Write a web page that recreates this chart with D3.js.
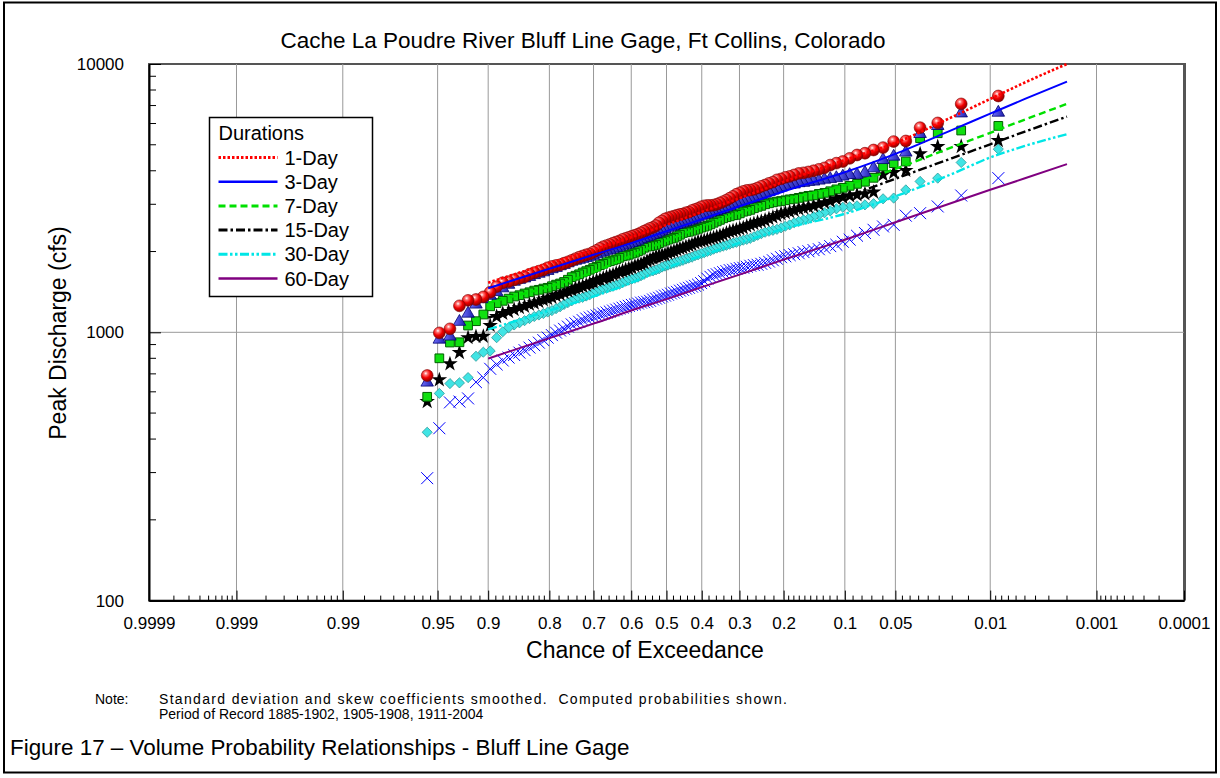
<!DOCTYPE html>
<html>
<head>
<meta charset="utf-8">
<script src="https://cdn.jsdelivr.net/npm/d3@7"></script>
<style>
  body { margin: 0; background: #fff; }
  svg { display: block; font-family: "Liberation Sans", Arial, sans-serif; }
</style>
</head>
<body>
<svg id="chart" width="1220" height="778"></svg>
<script>
// record 1885-1902, 1905-1908, 1911-2004 -> 116 years, Weibull plotting position rank/(n+1)
const recordYears = 116;

const probTicks = [0.9999, 0.999, 0.99, 0.95, 0.9, 0.8, 0.7, 0.6, 0.5, 0.4, 0.3, 0.2, 0.1, 0.05, 0.01, 0.001, 0.0001];
const probLabels = ['0.9999', '0.999', '0.99', '0.95', '0.9', '0.8', '0.7', '0.6', '0.5', '0.4', '0.3', '0.2', '0.1', '0.05', '0.01', '0.001', '0.0001'];
const probMinor = [0.9998, 0.9997, 0.9996, 0.9995, 0.9994, 0.9993, 0.9992, 0.9991,
  0.998, 0.997, 0.996, 0.995, 0.994, 0.993, 0.992, 0.991,
  0.985, 0.98, 0.975, 0.97, 0.965, 0.96, 0.955,
  0.94, 0.93, 0.92, 0.91,
  0.89, 0.88, 0.87, 0.86, 0.85, 0.84, 0.83, 0.82, 0.81,
  0.78, 0.76, 0.74, 0.72, 0.68, 0.66, 0.64, 0.62, 0.58, 0.56, 0.54, 0.52,
  0.48, 0.46, 0.44, 0.42, 0.38, 0.36, 0.34, 0.32, 0.28, 0.26, 0.24, 0.22,
  0.19, 0.18, 0.17, 0.16, 0.15, 0.14, 0.13, 0.12, 0.11,
  0.09, 0.08, 0.07, 0.06,
  0.045, 0.04, 0.035, 0.03, 0.025, 0.02, 0.015,
  0.009, 0.008, 0.007, 0.006, 0.005, 0.004, 0.003, 0.002,
  0.0009, 0.0008, 0.0007, 0.0006, 0.0005, 0.0004, 0.0003, 0.0002];
const flowTicks = [100, 1000, 10000];
const flowMinor = [200, 300, 400, 500, 600, 700, 800, 900, 2000, 3000, 4000, 5000, 6000, 7000, 8000, 9000];

const durations = ['1-Day', '3-Day', '7-Day', '15-Day', '30-Day', '60-Day'];

// ranked annual peak volumes (cfs), largest first
const oneDay = [7600, 7100, 6030, 5790, 5165, 5140, 4880, 4780, 4650, 4580,
  4450, 4330, 4270, 4200, 4100, 4050, 4000, 3960, 3930, 3910,
  3860, 3810, 3780, 3730, 3700, 3630, 3590, 3540, 3500, 3450,
  3410, 3390, 3380, 3350, 3310, 3270, 3210, 3160, 3110, 3070,
  3035, 3000, 2980, 2970, 2970, 2960, 2935, 2895, 2870, 2845,
  2805, 2790, 2760, 2750, 2730, 2710, 2690, 2670, 2645, 2600,
  2560, 2500, 2460, 2440, 2410, 2380, 2350, 2320, 2300, 2280,
  2260, 2240, 2220, 2190, 2170, 2150, 2125, 2105, 2085, 2055,
  2020, 1990, 1960, 1945, 1925, 1905, 1880, 1855, 1830, 1810,
  1785, 1775, 1760, 1740, 1710, 1690, 1670, 1645, 1610, 1590,
  1570, 1545, 1530, 1480, 1410, 1355, 1325, 1315, 1255, 1030,
  995, 690];
const threeDay = [6590, 6550, 5880, 5490, 4680, 4520, 4390, 4090, 3930, 3865,
  3860, 3810, 3760, 3730, 3710, 3680, 3650, 3640, 3610, 3600,
  3560, 3545, 3515, 3470, 3425, 3380, 3340, 3295, 3255, 3215,
  3170, 3145, 3120, 3090, 3065, 3040, 3000, 2960, 2925, 2885,
  2860, 2835, 2815, 2790, 2765, 2740, 2720, 2685, 2650, 2625,
  2605, 2580, 2560, 2540, 2515, 2495, 2475, 2455, 2420, 2390,
  2360, 2330, 2310, 2290, 2270, 2250, 2225, 2195, 2175, 2155,
  2140, 2120, 2105, 2085, 2065, 2050, 2030, 2015, 1995, 1980,
  1955, 1930, 1915, 1895, 1880, 1865, 1850, 1835, 1810, 1785,
  1765, 1740, 1720, 1695, 1675, 1655, 1635, 1610, 1590, 1570,
  1545, 1505, 1460, 1415, 1370, 1330, 1270, 1175, 1095, 965,
  940, 650];
const sevenDay = [5880, 5650, 5520, 5290, 4330, 4270, 4150, 3765, 3640, 3575,
  3515, 3455, 3410, 3355, 3310, 3280, 3240, 3225, 3200, 3170,
  3145, 3130, 3105, 3085, 3070, 3050, 3025, 3000, 2960, 2935,
  2900, 2860, 2835, 2815, 2775, 2740, 2730, 2705, 2685, 2660,
  2625, 2590, 2560, 2525, 2495, 2475, 2455, 2430, 2410, 2390,
  2370, 2360, 2345, 2310, 2280, 2250, 2235, 2215, 2195, 2175,
  2150, 2120, 2105, 2095, 2085, 2065, 2030, 2005, 1980, 1965,
  1945, 1930, 1920, 1895, 1870, 1855, 1840, 1825, 1800, 1780,
  1755, 1735, 1710, 1690, 1670, 1645, 1625, 1605, 1570, 1540,
  1520, 1505, 1485, 1465, 1455, 1440, 1430, 1410, 1395, 1375,
  1360, 1335, 1310, 1285, 1250, 1165, 1100, 1060, 918, 916,
  800, 575];
const fifteenDay = [5185, 4925, 4920, 4625, 4010, 3940, 3865, 3330, 3280, 3255,
  3225, 3185, 3145, 3080, 3040, 3000, 2960, 2935, 2910, 2885,
  2850, 2815, 2790, 2765, 2720, 2685, 2650, 2615, 2590, 2570,
  2540, 2515, 2485, 2450, 2430, 2410, 2390, 2370, 2340, 2310,
  2290, 2270, 2250, 2235, 2215, 2195, 2185, 2175, 2150, 2120,
  2105, 2085, 2065, 2050, 2030, 2005, 1990, 1970, 1945, 1940,
  1930, 1915, 1890, 1865, 1840, 1815, 1795, 1780, 1765, 1740,
  1725, 1710, 1695, 1675, 1660, 1640, 1625, 1610, 1590, 1570,
  1560, 1540, 1520, 1500, 1485, 1475, 1460, 1440, 1425, 1405,
  1385, 1370, 1350, 1335, 1320, 1300, 1285, 1270, 1250, 1235,
  1215, 1195, 1175, 1145, 1060, 966, 964, 955, 840, 763,
  665, 552];
const thirtyDay = [4815, 4295, 3755, 3650, 3395, 3165, 3145, 3015, 2985, 2960,
  2935, 2925, 2885, 2835, 2790, 2740, 2695, 2650, 2625, 2590,
  2560, 2515, 2485, 2450, 2420, 2400, 2380, 2360, 2330, 2300,
  2270, 2240, 2220, 2205, 2185, 2165, 2150, 2130, 2110, 2095,
  2075, 2060, 2040, 2015, 2000, 1980, 1965, 1945, 1930, 1905,
  1890, 1875, 1855, 1840, 1825, 1810, 1795, 1780, 1765, 1750,
  1725, 1710, 1695, 1685, 1670, 1645, 1625, 1605, 1590, 1580,
  1565, 1550, 1530, 1510, 1500, 1485, 1475, 1460, 1450, 1435,
  1415, 1400, 1380, 1365, 1350, 1340, 1330, 1310, 1290, 1270,
  1245, 1225, 1205, 1190, 1175, 1160, 1145, 1125, 1105, 1085,
  1065, 1040, 1005, 955, 852, 843, 814, 678, 648, 644,
  592, 424];
const sixtyDay = [3755, 3235, 2945, 2780, 2720, 2515, 2480, 2410, 2345, 2290,
  2215, 2175, 2120, 2095, 2065, 2040, 2025, 2005, 1990, 1970,
  1955, 1940, 1920, 1905, 1880, 1855, 1835, 1815, 1800, 1785,
  1780, 1770, 1755, 1740, 1735, 1725, 1710, 1705, 1690, 1675,
  1660, 1645, 1635, 1610, 1585, 1550, 1525, 1505, 1490, 1480,
  1465, 1455, 1440, 1430, 1415, 1405, 1395, 1380, 1370, 1360,
  1345, 1335, 1325, 1310, 1300, 1295, 1290, 1280, 1270, 1265,
  1255, 1245, 1235, 1225, 1215, 1205, 1195, 1185, 1175, 1165,
  1155, 1145, 1135, 1125, 1110, 1095, 1080, 1070, 1050, 1030,
  1015, 997, 976, 955, 935, 915, 895, 877, 858, 840,
  823, 805, 785, 759, 731, 678, 652, 567, 552, 548,
  439, 286];

// computed frequency curves (cfs) at fitProbs
const fitProbs = [0.9, 0.8, 0.7, 0.6, 0.5, 0.4, 0.3, 0.2, 0.1, 0.05, 0.02, 0.01, 0.005, 0.002];
const oneDayFit = [1530, 1810, 2030, 2260, 2515, 2810, 3160, 3640, 4390, 5080, 6350, 7410, 8535, 10000];
const threeDayFit = [1460, 1725, 1945, 2150, 2380, 2640, 2950, 3350, 3950, 4625, 5680, 6530, 7410, 8595];
const sevenDayFit = [1290, 1480, 1675, 1930, 2195, 2475, 2790, 3120, 3530, 4065, 4900, 5540, 6210, 7100];
const fifteenDayFit = [1135, 1310, 1480, 1675, 1895, 2150, 2430, 2765, 3200, 3735, 4460, 5020, 5600, 6365];
const thirtyDayFit = [1025, 1205, 1360, 1530, 1740, 1930, 2155, 2430, 2765, 3210, 3895, 4485, 4950, 5475];
const sixtyDayFit = [798, 951, 1077, 1205, 1329, 1473, 1640, 1865, 2214, 2571, 3039, 3397, 3749, 4234];

const observed = [oneDay, threeDay, sevenDay, fifteenDay, thirtyDay, sixtyDay];
const fitted = [oneDayFit, threeDayFit, sevenDayFit, fifteenDayFit, thirtyDayFit, sixtyDayFit];

// look of each duration
const lineColor = ['#ff0000', '#0000ff', '#00e000', '#000000', '#00e6e6', '#800080'];
const lineDash = ['2.5,2', null, '7,4', '9,3,2.5,3', '9,2.5,2.5,2.5,2.5,2.5', null];
const lineWidth = [2.6, 2, 2.4, 2.4, 2.4, 2];

// inverse standard normal (Acklam)
function probit(p) {
  const a = [-39.69683028665376, 220.9460984245205, -275.9285104469687, 138.3577518672690, -30.66479806614716, 2.506628277459239];
  const b = [-54.47609879822406, 161.5858368580409, -155.6989798598866, 66.80131188771972, -13.28068155288572];
  const c = [-0.007784894002430293, -0.3223964580411365, -2.400758277161838, -2.549671010115605, 4.374664141464968, 2.938163982698783];
  const d = [0.007784695709041462, 0.3224671290700398, 2.445134137142996, 3.754408661907416];
  const pl = 0.02425;
  let q, r;
  if (p < pl) {
    q = Math.sqrt(-2 * Math.log(p));
    return (((((c[0] * q + c[1]) * q + c[2]) * q + c[3]) * q + c[4]) * q + c[5]) / ((((d[0] * q + d[1]) * q + d[2]) * q + d[3]) * q + 1);
  }
  if (p <= 1 - pl) {
    q = p - 0.5; r = q * q;
    return (((((a[0] * r + a[1]) * r + a[2]) * r + a[3]) * r + a[4]) * r + a[5]) * q / (((((b[0] * r + b[1]) * r + b[2]) * r + b[3]) * r + b[4]) * r + 1);
  }
  q = Math.sqrt(-2 * Math.log(1 - p));
  return -(((((c[0] * q + c[1]) * q + c[2]) * q + c[3]) * q + c[4]) * q + c[5]) / ((((d[0] * q + d[1]) * q + d[2]) * q + d[3]) * q + 1);
}
// exceedance probability -> normal deviate, growing to the right
const zOf = p => -probit(p);

const svg = d3.select('#chart');
const plotL = 149, plotR = 1184, plotT = 64, plotB = 600.6;

const x = d3.scaleLinear().domain([zOf(0.9999), zOf(0.0001)]).range([plotL, plotR]);
const y = d3.scaleLog().domain([100, 10000]).range([plotB, plotT]);
const px = p => x(zOf(p));

const defs = svg.append('defs');
const ball = defs.append('radialGradient').attr('id', 'ball').attr('cx', '38%').attr('cy', '32%').attr('r', '70%');
ball.append('stop').attr('offset', '0%').attr('stop-color', '#ffffff');
ball.append('stop').attr('offset', '22%').attr('stop-color', '#ff7070');
ball.append('stop').attr('offset', '55%').attr('stop-color', '#f00000');
ball.append('stop').attr('offset', '100%').attr('stop-color', '#8a0000');
const tri = defs.append('linearGradient').attr('id', 'tri').attr('x1', '0%').attr('x2', '100%');
tri.append('stop').attr('offset', '0%').attr('stop-color', '#7070ff');
tri.append('stop').attr('offset', '100%').attr('stop-color', '#1c1ca8');

// outer figure frame
svg.append('rect').attr('x', 4).attr('y', 2.5).attr('width', 1212).attr('height', 770)
  .attr('fill', '#fff').attr('stroke', '#000').attr('stroke-width', 2);

// title
svg.append('text').attr('x', 583).attr('y', 48).attr('text-anchor', 'middle')
  .attr('font-size', 22.5).text('Cache La Poudre River Bluff Line Gage, Ft Collins, Colorado');

// plot frame, right edge heavier like the original
svg.append('rect').attr('x', plotL).attr('y', plotT).attr('width', plotR - plotL).attr('height', plotB - plotT)
  .attr('fill', '#fff').attr('stroke', '#555').attr('stroke-width', 2);
svg.append('line').attr('x1', plotR + 0.5).attr('x2', plotR + 0.5).attr('y1', plotT - 1).attr('y2', plotB)
  .attr('stroke', '#555').attr('stroke-width', 3);

// grid
const grid = svg.append('g');
grid.selectAll('line.v').data(probTicks.slice(1, -1)).enter().append('line')
  .attr('x1', d => px(d)).attr('x2', d => px(d)).attr('y1', plotT).attr('y2', plotB)
  .attr('stroke', '#999').attr('stroke-width', 1);
grid.append('line').attr('x1', plotL).attr('x2', plotR).attr('y1', y(1000)).attr('y2', y(1000))
  .attr('stroke', '#999').attr('stroke-width', 1);

// bottom axis
const xAxis = d3.axisBottom(x)
  .tickValues(probTicks.map(zOf))
  .tickFormat((d, i) => probLabels[i])
  .tickSizeInner(-10).tickSizeOuter(0).tickPadding(16);
const gx = svg.append('g').attr('transform', `translate(0,${plotB})`).call(xAxis);
gx.select('.domain').attr('stroke', '#000').attr('stroke-width', 2);
gx.selectAll('.tick line').attr('stroke', '#000');
gx.selectAll('.tick text').attr('font-size', 17).attr('font-family', '"Liberation Sans", Arial, sans-serif').attr('fill', '#000');
gx.selectAll('line.minor').data(probMinor).enter().append('line').attr('class', 'minor')
  .attr('x1', d => px(d)).attr('x2', d => px(d)).attr('y1', 0).attr('y2', -5).attr('stroke', '#000');

// left axis
const yAxis = d3.axisLeft(y).tickValues(flowTicks).tickFormat(d3.format('d'))
  .tickSizeInner(-12).tickSizeOuter(0).tickPadding(25);
const gy = svg.append('g').attr('transform', `translate(${plotL},0)`).call(yAxis);
gy.select('.domain').attr('stroke', '#000').attr('stroke-width', 2);
gy.selectAll('.tick line').attr('stroke', '#000');
gy.selectAll('.tick text').attr('font-size', 17).attr('font-family', '"Liberation Sans", Arial, sans-serif').attr('fill', '#000');
gy.selectAll('line.minor').data(flowMinor).enter().append('line').attr('class', 'minor')
  .attr('x1', 0).attr('x2', 7).attr('y1', d => y(d)).attr('y2', d => y(d)).attr('stroke', '#000');

// axis titles
svg.append('text').attr('x', 645).attr('y', 658).attr('text-anchor', 'middle')
  .attr('font-size', 23).text('Chance of Exceedance');
svg.append('text').attr('transform', 'translate(66,333) rotate(-90)').attr('text-anchor', 'middle')
  .attr('font-size', 23).text('Peak Discharge (cfs)');

// observed points, 60-Day first so 1-Day ends on top
const plot = svg.append('g');
const marker = [
  { type: d3.symbolCircle, size: 110, fill: 'url(#ball)', stroke: '#7a0000', sw: 0.6 },
  { type: d3.symbolTriangle, size: 68, fill: 'url(#tri)', stroke: '#000070', sw: 0.8 },
  { type: d3.symbolSquare, size: 76, fill: '#10e010', stroke: '#006000', sw: 1 },
  { type: d3.symbolStar, size: 75, fill: '#000', stroke: 'none', sw: 0 },
  { type: d3.symbolDiamond2, size: 66, fill: '#40e4e4', stroke: '#2a9a9a', sw: 0.8 },
  { type: d3.symbolX, size: 95, fill: 'none', stroke: '#0000ff', sw: 1 }
];
for (let s = observed.length - 1; s >= 0; s--) {
  const m = marker[s];
  const sym = d3.symbol().type(m.type).size(m.size);
  plot.append('g').selectAll('path').data(observed[s]).enter().append('path')
    .attr('transform', (d, i) => `translate(${px((i + 1) / (recordYears + 1))},${y(d)})`)
    .attr('d', sym)
    .attr('fill', m.fill).attr('stroke', m.stroke).attr('stroke-width', m.sw);
}

// computed frequency curves on top
const curve = d3.line().x(d => px(d[0])).y(d => y(d[1])).curve(d3.curveMonotoneX);
fitted.forEach((vals, s) => {
  plot.append('path')
    .attr('d', curve(fitProbs.map((p, i) => [p, vals[i]])))
    .attr('fill', 'none').attr('stroke', lineColor[s]).attr('stroke-width', lineWidth[s])
    .attr('stroke-dasharray', lineDash[s]);
});

// legend
const lg = svg.append('g').attr('transform', 'translate(209.5,117.5)');
lg.append('rect').attr('width', 163).attr('height', 179).attr('fill', '#fff').attr('stroke', '#000').attr('stroke-width', 1.5);
lg.append('text').attr('x', 9).attr('y', 22).attr('font-size', 20).text('Durations');
const rows = lg.selectAll('g.row').data(durations).enter().append('g').attr('class', 'row')
  .attr('transform', (d, i) => `translate(0,${40 + i * 24.2})`);
rows.append('line').attr('x1', 9).attr('x2', 68).attr('y1', 0).attr('y2', 0)
  .attr('stroke', (d, i) => lineColor[i]).attr('stroke-width', (d, i) => lineWidth[i] + 0.6)
  .attr('stroke-dasharray', (d, i) => lineDash[i]);
rows.append('text').attr('x', 75).attr('y', 7).attr('font-size', 20).text(d => d);

// notes and caption
svg.append('text').attr('x', 95).attr('y', 704).attr('font-size', 14).text('Note:');
svg.append('text').attr('x', 159).attr('y', 704).attr('font-size', 14)
  .attr('textLength', 628).attr('lengthAdjust', 'spacing')
  .text('Standard deviation and skew coefficients smoothed.\u00a0 Computed probabilities shown.');
svg.append('text').attr('x', 159).attr('y', 719).attr('font-size', 14)
  .text('Period of Record 1885-1902, 1905-1908, 1911-2004');
svg.append('text').attr('x', 10).attr('y', 755).attr('font-size', 22.4)
  .text('Figure 17 \u2013 Volume Probability Relationships - Bluff Line Gage');
</script>
</body>
</html>
